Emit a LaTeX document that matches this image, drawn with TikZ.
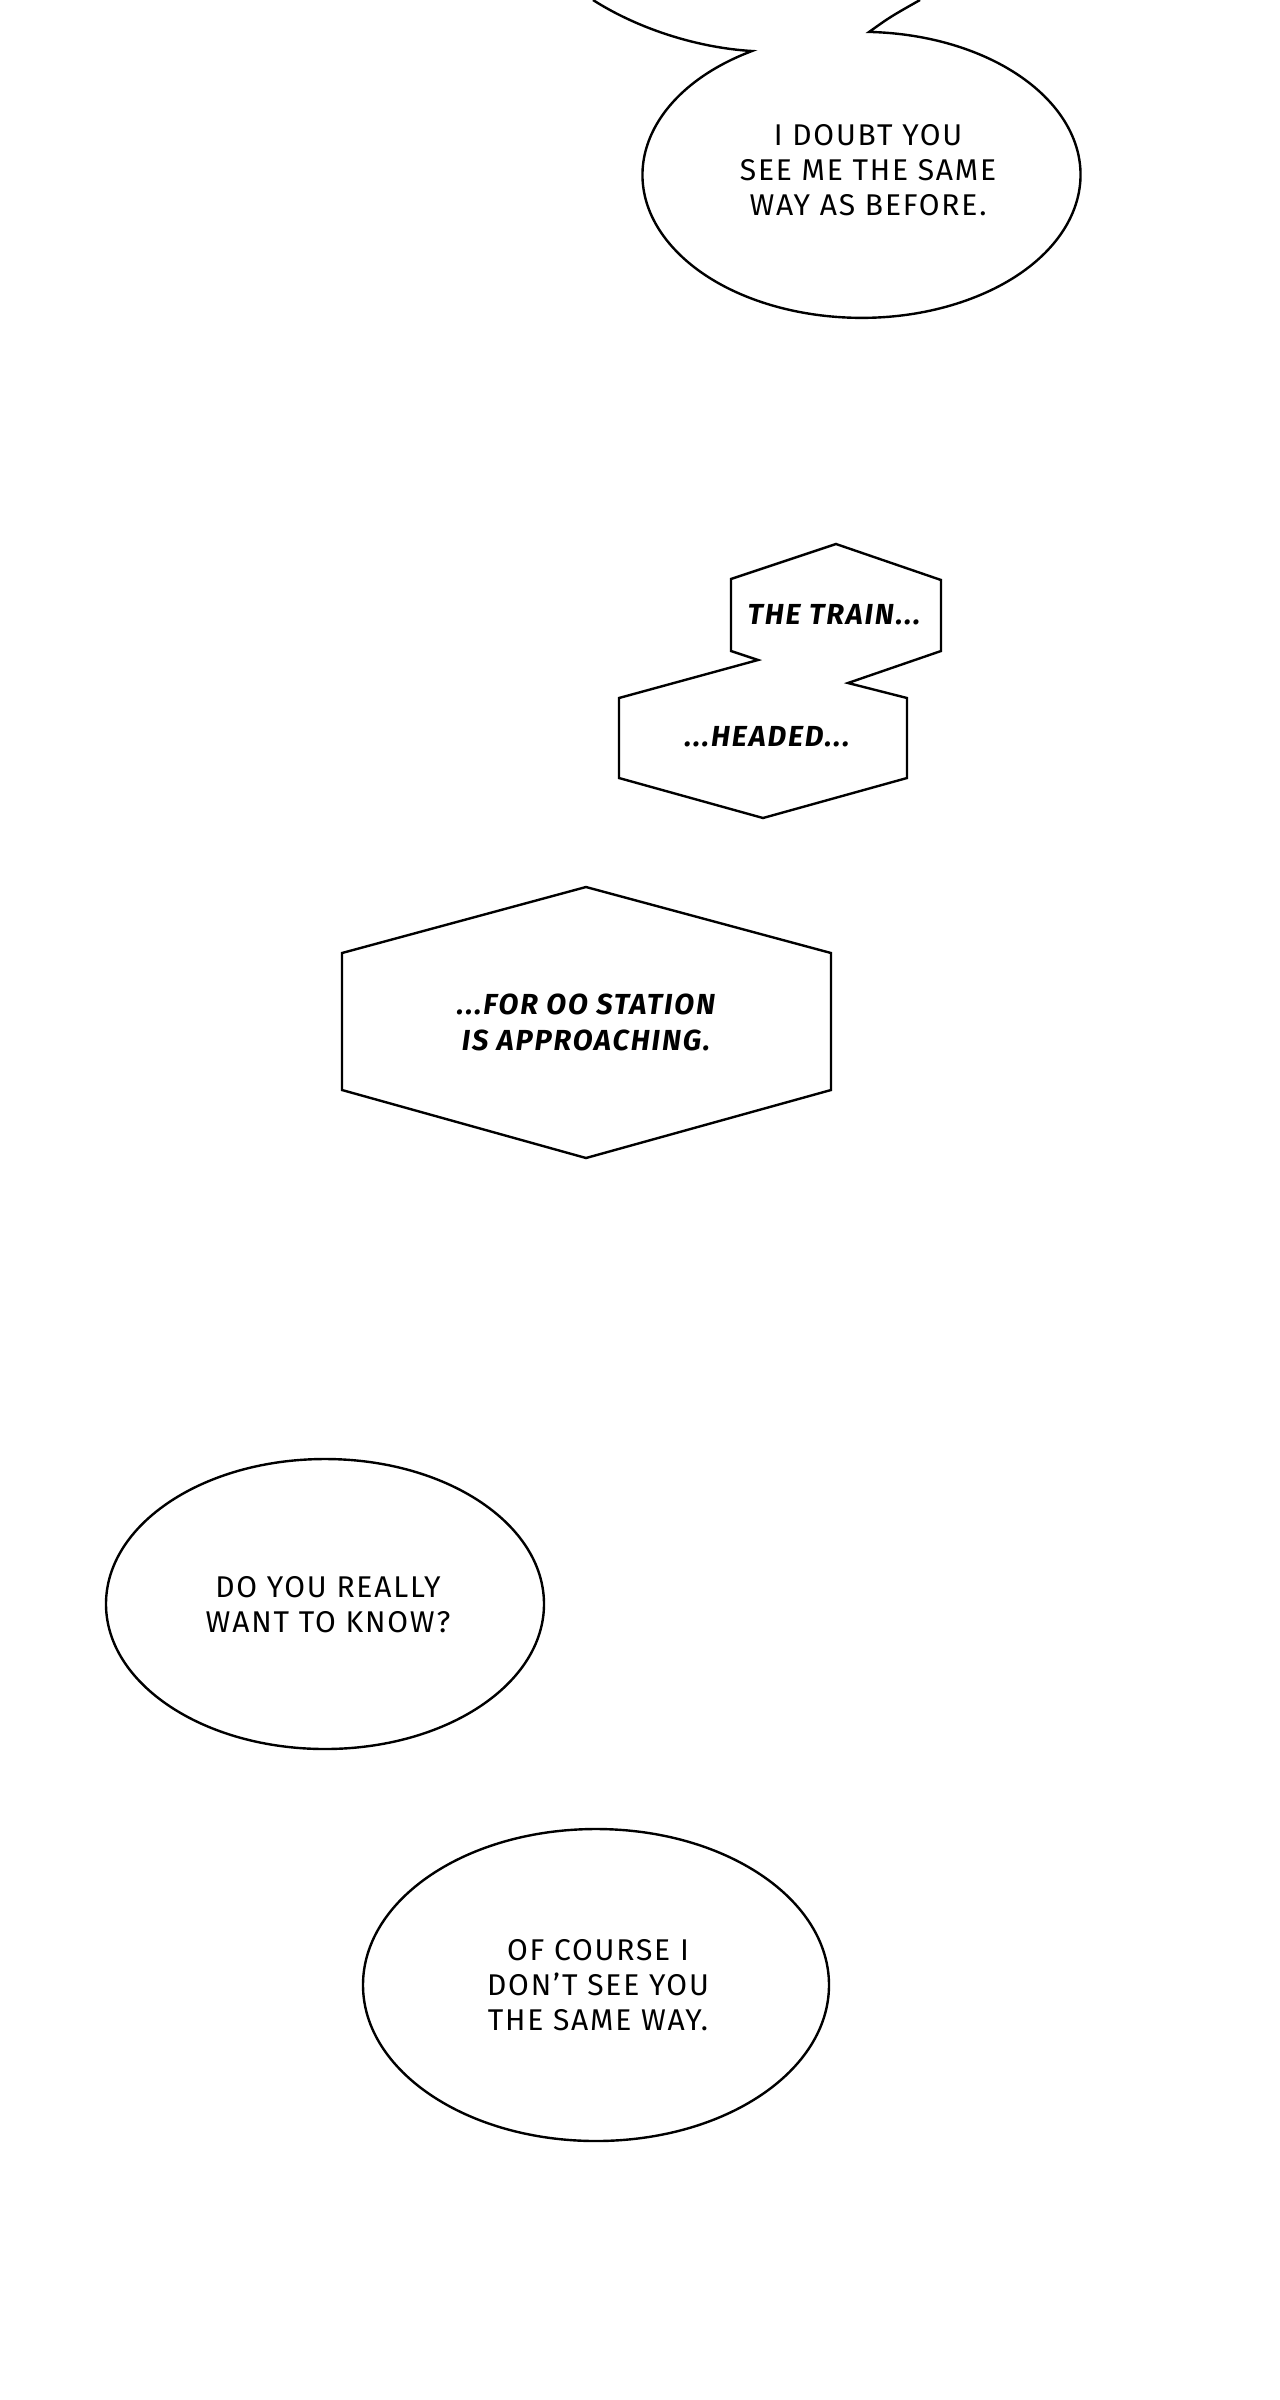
\documentclass[tikz,border=0pt]{standalone}
\usepackage{fontspec}
\setmainfont{Fira Sans}[LetterSpace=6]
\newfontfamily\hexfont{Fira Sans}[LetterSpace=6.5]
\begin{document}
\begin{tikzpicture}[x=0.5pt,y=-0.5pt,
  outline/.style={draw=black,line width=1.2pt,line join=miter,fill=white},
  speech/.style={align=center,inner sep=0pt,font=\fontsize{15}{17.5}\selectfont},
  narr/.style={align=center,inner sep=0pt,font=\hexfont\bfseries\itshape\fontsize{14.5}{18}\selectfont}]
\useasboundingbox[fill=white] (0,0) rectangle (1280,2400);

% top bubble (joined to a bubble above the frame)
\draw[outline] (593,0) .. controls (640,30) and (700,48) .. (752,51)
  arc[start angle=240,end angle=-88,x radius=219,y radius=143]
  .. controls (890,17) .. (920,0);
\node[speech] (t1) at (868,170) {I DOUBT YOU\\SEE ME THE SAME\\WAY AS BEFORE.};

% double hexagon
\draw[outline] (836,544) -- (941,580) -- (941,651) -- (848,683) -- (907,698)
  -- (907,778) -- (763,818) -- (619,778) -- (619,698) -- (758,660)
  -- (731,651) -- (731,579) -- cycle;
\node[narr] (t2) at (834,615) {THE TRAIN...};
\node[narr] (t3) at (767,737) {...HEADED...};

% big hexagon
\draw[outline] (586,887) -- (831,953) -- (831,1090) -- (586,1158)
  -- (342,1090) -- (342,953) -- cycle;
\node[narr] (t4) at (586,1022) {...FOR OO STATION\\IS APPROACHING.};

% ellipses
\draw[outline] (325,1604) ellipse[x radius=219,y radius=145];
\node[speech] (t5) at (328,1605) {DO YOU REALLY\\WANT TO KNOW?};

\draw[outline] (596,1985) ellipse[x radius=233,y radius=156];
\node[speech] (t6) at (598,1985) {OF COURSE I\\DON’T SEE YOU\\THE SAME WAY.};
\end{tikzpicture}
\end{document}
